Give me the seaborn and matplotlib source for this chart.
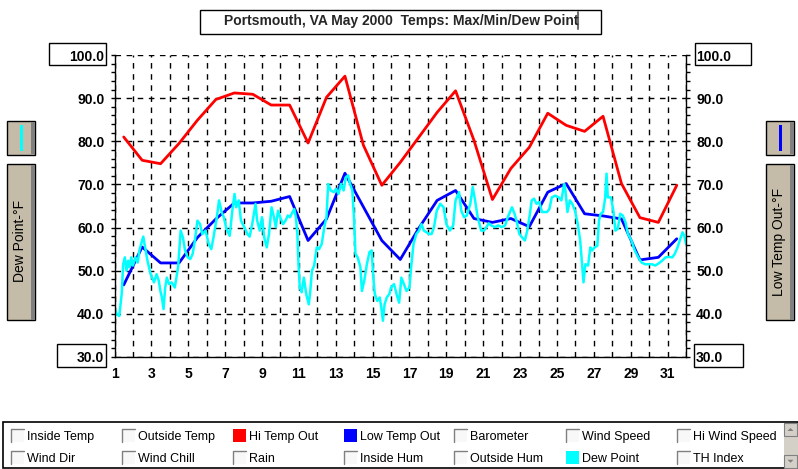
import matplotlib
matplotlib.use("Agg")
import matplotlib.pyplot as plt
from matplotlib.patches import Rectangle, Polygon
from matplotlib.lines import Line2D
from matplotlib.ticker import MultipleLocator
import seaborn as sns

# Daily readings, Portsmouth VA, May 2000
days = list(range(1, 32))
hi_temp = [81.0, 75.6, 74.8, 79.5, 84.9, 89.7, 91.2, 90.9, 88.4, 88.4, 79.6, 90.2, 95.1, 79.1, 69.8,
           75.1, 80.9, 86.7, 91.7, 80.2, 66.5, 73.7, 78.6, 86.5, 83.7, 82.3, 85.8, 70.2, 62.3, 61.2, 69.8]
low_temp = [46.7, 55.5, 51.8, 51.8, 57.7, 62.0, 65.7, 65.7, 66.1, 67.2, 57.0, 62.0, 72.6, 64.8, 57.0,
            52.6, 59.8, 66.3, 68.6, 62.1, 61.2, 62.1, 60.2, 68.2, 70.2, 63.2, 62.7, 62.0, 52.5, 53.1, 57.4]

# Dew point logged several times a day (day of month, deg F)
dew_day = [1.00, 1.12, 1.26, 1.39, 1.47, 1.56, 1.65, 1.74, 1.82, 1.91, 2.00, 2.14, 2.26, 2.35, 2.47,
           2.56, 2.66, 2.79, 2.96, 3.14, 3.28, 3.40, 3.49, 3.57, 3.66, 3.75, 3.84, 3.96, 4.10, 4.27,
           4.45, 4.59, 4.71, 4.83, 4.97, 5.11, 5.24, 5.36, 5.50, 5.64, 5.76, 5.94, 6.11, 6.25, 6.37,
           6.55, 6.67, 6.81, 6.93, 7.07, 7.25, 7.39, 7.51, 7.60, 7.74, 7.86, 8.04, 8.21, 8.33, 8.47,
           8.53, 8.65, 8.74, 8.88, 9.00, 9.12, 9.26, 9.38, 9.52, 9.65, 9.75, 9.87, 9.99, 10.14, 10.28,
           10.40, 10.52, 10.66, 10.75, 10.84, 10.92, 10.98, 11.05, 11.15, 11.27, 11.40, 11.54, 11.62,
           11.71, 11.83, 11.97, 12.10, 12.24, 12.38, 12.50, 12.59, 12.73, 12.90, 13.02, 13.15, 13.29,
           13.43, 13.55, 13.67, 13.78, 13.90, 13.99, 14.07, 14.19, 14.34, 14.42, 14.55, 14.69, 14.83,
           14.95, 15.04, 15.12, 15.25, 15.39, 15.47, 15.56, 15.65, 15.77, 15.91, 16.00, 16.16, 16.30,
           16.44, 16.56, 16.70, 16.84, 17.00, 17.09, 17.22, 17.37, 17.52, 17.65, 17.78, 17.93, 18.07,
           18.20, 18.33, 18.48, 18.67, 18.85, 19.00, 19.19, 19.37, 19.50, 19.69, 19.81, 19.96, 20.11,
           20.30, 20.43, 20.56, 20.70, 20.89, 21.04, 21.17, 21.30, 21.44, 21.63, 21.81, 22.00, 22.19,
           22.33, 22.56, 22.70, 22.83, 22.96, 23.11, 23.26, 23.39, 23.52, 23.63, 23.76, 23.89, 24.04,
           24.19, 24.37, 24.46, 24.59, 24.72, 24.91, 25.09, 25.24, 25.39, 25.46, 25.57, 25.70, 25.83,
           25.98, 26.13, 26.26, 26.35, 26.44, 26.54, 26.69, 26.81, 26.91, 27.04, 27.19, 27.28, 27.37,
           27.50, 27.61, 27.69, 27.76, 27.93, 28.06, 28.17, 28.30, 28.43, 28.57, 28.72, 28.85, 29.04,
           29.22, 29.41, 29.59, 29.78, 29.96, 30.15, 30.33, 30.52, 30.70, 30.89, 31.07, 31.26, 31.39,
           31.54, 31.69, 31.81, 31.91, 32.00]
dew_point = [41.5, 39.9, 39.5, 44.6, 51.5, 53.1, 50.0, 52.3, 50.8, 53.1, 51.2, 53.1, 51.9, 54.7, 56.6,
             57.9, 55.4, 52.3, 49.2, 47.3, 49.2, 47.7, 45.3, 43.8, 41.1, 46.1, 48.4, 46.9, 47.3, 46.1,
             50.8, 59.3, 57.7, 54.7, 53.1, 52.7, 53.9, 57.0, 61.6, 60.8, 58.5, 59.3, 56.2, 55.0, 57.7,
             62.4, 66.3, 63.6, 62.4, 59.7, 58.1, 63.9, 67.8, 64.7, 66.3, 61.6, 60.1, 58.5, 57.9, 60.8,
             62.4, 65.5, 61.6, 59.3, 62.4, 57.7, 55.4, 58.5, 64.7, 62.4, 60.1, 63.9, 62.4, 60.8, 61.6,
             62.8, 62.4, 63.6, 64.3, 62.4, 58.5, 51.5, 46.1, 45.0, 48.4, 44.6, 42.2, 45.3,
             50.0, 51.2, 55.4, 55.0, 56.2, 60.1, 62.4, 70.1, 68.6, 68.2, 69.0, 67.8, 70.1,
             68.6, 71.7, 72.1, 70.1, 68.6, 62.4, 53.9, 53.1, 50.8, 45.3, 47.7, 51.5, 54.3,
             54.7, 48.4, 44.6, 43.0, 43.8, 41.5, 38.4, 42.2, 43.8, 44.6, 46.1, 46.9, 44.6,
             42.6, 48.4, 46.9, 45.3, 46.1, 50.8, 56.2, 58.5, 59.3, 60.8, 59.3, 58.9, 58.5,
             58.5, 60.1, 63.9, 65.5, 64.7, 60.8, 59.3, 60.5, 66.3, 68.2, 63.9, 62.4, 62.8,
             65.5, 69.4, 66.3, 62.4, 59.3, 59.3, 60.1, 61.0, 60.5, 60.1, 60.5, 60.1, 60.5,
             62.4, 64.7, 63.2, 61.2, 58.5, 57.7, 57.0, 59.3, 62.8, 66.3, 66.7, 65.5, 65.9,
             63.6, 63.6, 63.6, 64.3, 67.0, 67.4, 67.0, 66.3, 70.1, 68.6, 63.6, 66.3, 65.5,
             63.9, 60.8, 57.0, 52.3, 47.3, 51.5, 51.2, 55.4, 54.7, 55.4, 55.8, 61.6, 63.2,
             63.6, 66.7, 72.5, 67.0, 67.0, 63.9, 59.3, 59.7, 63.2, 62.8, 61.2, 58.5, 57.0,
             54.7, 53.1, 51.9, 51.5, 51.5, 51.5, 51.2, 51.7, 52.3, 53.1, 53.2, 53.1, 53.9,
             55.4, 57.4, 58.9, 58.1, 56.2]

y_ticks = [30, 40, 50, 60, 70, 80, 90, 100]
legend_row1 = ["Inside Temp", "Outside Temp", "Hi Temp Out", "Low Temp Out", "Barometer", "Wind Speed", "Hi Wind Speed"]
legend_row2 = ["Wind Dir", "Wind Chill", "Rain", "Inside Hum", "Outside Hum", "Dew Point", "TH Index"]

HI_COLOR, LOW_COLOR, DEW_COLOR = "#ff0000", "#0000ff", "#00ffff"
checked = {"Hi Temp Out": HI_COLOR, "Low Temp Out": LOW_COLOR, "Dew Point": DEW_COLOR}

sns.set_style("white")
plt.rcParams["font.family"] = ["Liberation Sans", "DejaVu Sans"]
plt.rcParams["font.weight"] = "bold"
plt.rcParams["lines.scale_dashes"] = False

W, H = 798, 469
fig = plt.figure(figsize=(W / 100, H / 100), dpi=100)
fig.patch.set_facecolor("white")


# helpers working in screen pixels (top-left origin)
def px_rect(x0, y0, x1, y1, **kw):
    r = Rectangle((x0 / W, 1 - y1 / H), (x1 - x0) / W, (y1 - y0) / H, transform=fig.transFigure, **kw)
    fig.add_artist(r)
    return r


def px_line(xs, ys, **kw):
    fig.add_artist(Line2D([x / W for x in xs], [1 - y / H for y in ys], transform=fig.transFigure, **kw))


def px_text(x, y, s, **kw):
    fig.text(x / W, 1 - y / H, s, **kw)


# Main chart
ax = fig.add_axes([114.5 / W, 1 - 357 / H, 571.5 / W, 302 / H])
hi_x = [d + 0.5 for d in days]
sns.lineplot(x=hi_x, y=hi_temp, color=HI_COLOR, linewidth=2.0, ax=ax, errorbar=None)
sns.lineplot(x=hi_x, y=low_temp, color=LOW_COLOR, linewidth=2.0, ax=ax, errorbar=None)
sns.lineplot(x=dew_day, y=dew_point, color=DEW_COLOR, linewidth=1.8, ax=ax, errorbar=None, sort=False)

ax.set_xlim(1, 32)
ax.set_ylim(30, 100)
ax.set_xlabel("")
ax.set_ylabel("")
ax.set_xticks(days + [32])
ax.set_xticklabels([str(d) if d % 2 == 1 else "" for d in days] + [""])
ax.set_yticks(y_ticks)
ax.set_yticklabels([f"{v:.1f}" for v in y_ticks])
ax.yaxis.set_minor_locator(MultipleLocator(2))
ax.grid(True, which="major", color="black", linestyle=(0, (4, 4)), linewidth=1.0)
ax.tick_params(axis="x", direction="out", length=4, width=1, pad=3.5, labelsize=10, colors="black")
ax.tick_params(axis="y", which="both", direction="out", length=3, width=1, left=True, right=True,
               labelleft=True, labelright=True, pad=4.3, labelsize=10, colors="black")
for side in ["left", "right", "bottom"]:
    ax.spines[side].set_visible(True)
    ax.spines[side].set_color("black")
    ax.spines[side].set_linewidth(1.0)
ax.spines["top"].set_visible(False)

# boxed end labels
for x0, y0, x1, y1 in [(49, 43, 106, 65), (695, 43, 751, 65), (57, 344, 106, 367), (694, 344, 743, 367)]:
    px_rect(x0, y0, x1, y1, fill=False, edgecolor="black", linewidth=1.0)

# Title box
px_rect(200, 10, 601, 34, fill=False, edgecolor="black", linewidth=1.0)
px_text(401, 21, "Portsmouth, VA May 2000  Temps: Max/Min/Dew Point", ha="center", va="center", fontsize=10)
px_line([577.5, 577.5], [12, 29], color="#707070", linewidth=1.5)

# Side axis buttons
BEIGE = "#c4bca8"
for x0, bar_color, label in [(7, DEW_COLOR, "Dew Point-°F"), (766, LOW_COLOR, "Low Temp Out-°F")]:
    px_rect(x0, 121, x0 + 28, 155, facecolor=BEIGE, edgecolor="black", linewidth=1.0)
    px_rect(x0 + 24, 122, x0 + 27.5, 154.5, facecolor="#808080", edgecolor="none")
    px_rect(x0 + 12.5, 125, x0 + 15.5, 151, facecolor=bar_color, edgecolor="none")
    px_rect(x0, 164, x0 + 28, 320, facecolor=BEIGE, edgecolor="black", linewidth=1.0)
    px_rect(x0 + 24, 165, x0 + 27.5, 319.5, facecolor="#808080", edgecolor="none")
    px_text(x0 + 13, 296 if x0 > 400 else 282, label, rotation=90, ha="center", va="bottom",
            fontsize=10, fontweight="normal", color="black")

# Legend panel with check boxes
px_rect(3, 422, 797.5, 468, facecolor="white", edgecolor="black", linewidth=1.2)
col_x = [11, 122, 233, 344, 454, 566, 677]
for row_top, names in [(429, legend_row1), (451, legend_row2)]:
    for cx, name in zip(col_x, names):
        if name in checked:
            px_rect(cx, row_top, cx + 13, row_top + 13, facecolor=checked[name], edgecolor="none")
        else:
            px_rect(cx, row_top, cx + 13, row_top + 13, facecolor="#f8f8f8", edgecolor="none")
            px_line([cx, cx, cx + 13], [row_top + 13, row_top, row_top], color="#808080", linewidth=1.0)
        px_text(cx + 16, row_top + 7.5, name, ha="left", va="center", fontsize=9,
                fontweight="normal", color="black")

# scroll bar
px_rect(784, 423, 797.5, 467.5, facecolor="#d4d0c8", edgecolor="none")
for y0, y1, up in [(423, 436, True), (455, 467.5, False)]:
    px_rect(784, y0, 797, y1, facecolor="#d4d0c8", edgecolor="#808080", linewidth=0.8)
    cxm, cym = 790.5, (y0 + y1) / 2
    tri = [(cxm - 3, cym + 1.5), (cxm + 3, cym + 1.5), (cxm, cym - 1.5)] if up else \
          [(cxm - 3, cym - 1.5), (cxm + 3, cym - 1.5), (cxm, cym + 1.5)]
    fig.add_artist(Polygon([(x / W, 1 - y / H) for x, y in tri], closed=True, transform=fig.transFigure,
                           facecolor="#808080", edgecolor="none"))

fig.savefig("out.png", dpi=100)
